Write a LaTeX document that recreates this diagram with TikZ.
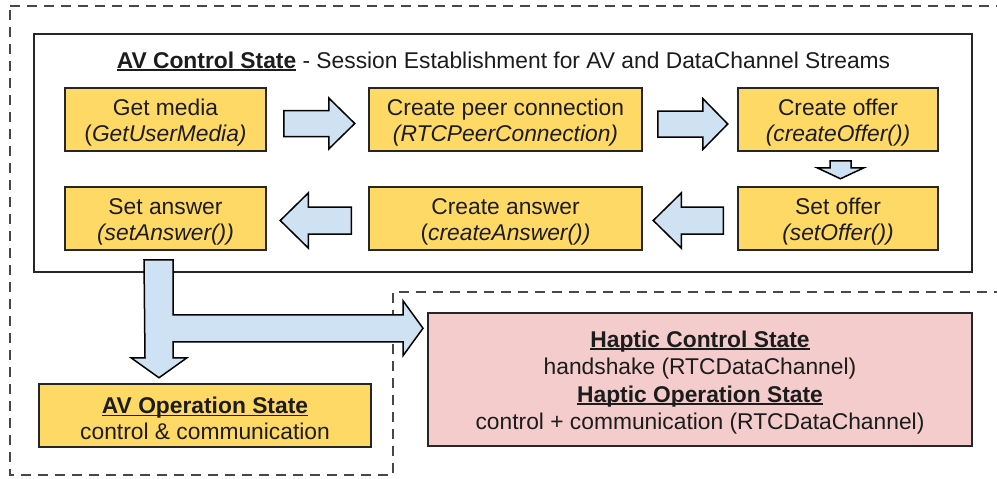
\documentclass[tikz,border=0pt]{standalone}
\usepackage{fontspec}
\setmainfont{Liberation Sans}
\usetikzlibrary{calc}

\definecolor{boxyellow}{HTML}{FFD966}
\definecolor{arrowblue}{HTML}{CFE2F3}
\definecolor{hapticpink}{HTML}{F4CCCC}
\definecolor{edge}{HTML}{262626}
\definecolor{ink}{HTML}{1C1C1C}

% bold heading with a rule just below the baseline
\newcommand\ulbold[1]{\setbox0\hbox{\bfseries #1}\rlap{\rule[-2.6pt]{\wd0}{1.5pt}}\box0\relax}
% extra height above the first line so the text block sits a little lower
\newcommand\topstrut{\rule{0pt}{22.5pt}}

% block arrow pointing along x: start, shaft length, head length, shaft half width, head half width
\newcommand\hblock[5]{\draw[blockarrow] (#1) ++(0,-#4) -- ++(#2,0) -- ++(0,#4-#5) -- ++(#3,#5) -- ++(-#3,#5) -- ++(0,#4-#5) -- ++(-#2,0) -- cycle;}
% block arrow pointing along y (downwards)
\newcommand\vblock[5]{\draw[blockarrow] (#1) ++(-#4,0) -- ++(0,#2) -- ++(#4-#5,0) -- ++(#5,#3) -- ++(#5,-#3) -- ++(#4-#5,0) -- ++(0,-#2) -- cycle;}

\begin{document}
\begin{tikzpicture}[x=1pt,y=-1pt,
  font=\fontsize{22.8}{26}\selectfont, text=ink,
  stepbox/.style={draw=edge, line width=1.5pt, fill=boxyellow, minimum height=63pt, inner sep=0pt, align=center},
  blockarrow/.style={draw=black, line width=1.5pt, fill=arrowblue, line join=miter},
  frame/.style={draw=edge, line width=1.5pt, inner sep=0pt},
  zone/.style={draw=edge!85, line width=2pt, dash pattern=on 10pt off 7pt}]

\useasboundingbox (0,0) rectangle (997,479);

% dashed outline of the AV region
\begin{scope}
  \clip (0,0) rectangle (997,479);
  \draw[zone] (10,6) -- (1010,6) -- (1010,292) -- (393,292) -- (393,475) -- (10,475) -- cycle;
\end{scope}

% AV control state frame and its heading
\node[frame, minimum width=938pt, minimum height=238pt] (avctl) at (503,153) {};
\node[anchor=base] (title) at (503.5,68) {\ulbold{AV Control State} - Session Establishment for AV and DataChannel Streams};

% session establishment steps
\node[stepbox, minimum width=201pt] (getm)   at (165.5,119.5) {\topstrut Get media\\(\textit{GetUserMedia)}};
\node[stepbox, minimum width=273pt] (peer)   at (505.5,119.5) {\topstrut Create peer connection\\\textit{(RTCPeerConnection)}};
\node[stepbox, minimum width=200pt] (offer)  at (838,119.5)   {\topstrut Create offer\\\textit{(createOffer())}};
\node[stepbox, minimum width=201pt] (setans) at (165.5,218.5) {\topstrut Set answer\\\textit{(setAnswer())}};
\node[stepbox, minimum width=273pt] (cans)   at (505.5,218.5) {\topstrut Create answer\\(\textit{createAnswer())}};
\node[stepbox, minimum width=200pt] (setoff) at (838,218.5)   {\topstrut Set offer\\\textit{(setOffer())}};

% operation states
\node[stepbox, minimum width=332pt] (avop) at (205,415.5) {\topstrut\ulbold{AV Operation State}\\control \& communication};
\node[draw=edge, line width=1.5pt, fill=hapticpink, minimum width=544pt, minimum height=133pt,
      inner sep=0pt, align=center, font=\fontsize{22.8}{27.5}\selectfont] (haptic) at (700,379.5)
  {\topstrut\ulbold{Haptic Control State}\\handshake (RTCDataChannel)\\\ulbold{Haptic Operation State}\\control + communication (RTCDataChannel)};

% arrow anchors between the steps
\coordinate (a1) at ($(getm.east)+(17,4)$);
\coordinate (a2) at ($(peer.east)+(15,4.5)$);
\coordinate (a3) at ($(offer.south)+(2.5,9)$);
\coordinate (a4) at ($(setoff.west)+(-14,2)$);
\coordinate (a5) at ($(cans.west)+(-17,2)$);
\coordinate (a6) at ($(setans.south)+(-7,9)$);

\hblock{a1}{45}{26}{13}{25.5}
\hblock{a2}{45}{25}{13}{25.5}
\vblock{a3}{7}{11}{10.5}{23.5}
\hblock{a4}{-42}{-28}{13.5}{27.5}
\hblock{a5}{-43}{-28}{13.5}{27.5}

% branching arrow from the last step to both operation states
\draw[blockarrow] (a6) ++(-14.5,0) -- ++(29,0) -- ++(0,55) -- ++(230,0) -- ++(0,-14)
  -- ++(20,27.5) -- ++(-20,27.5) -- ++(0,-14) -- ++(-230,0) -- ++(0,16) -- ++(14,0)
  -- ++(-28,20) -- ++(-28,-20) -- ++(14,0) -- cycle;

\end{tikzpicture}
\end{document}
